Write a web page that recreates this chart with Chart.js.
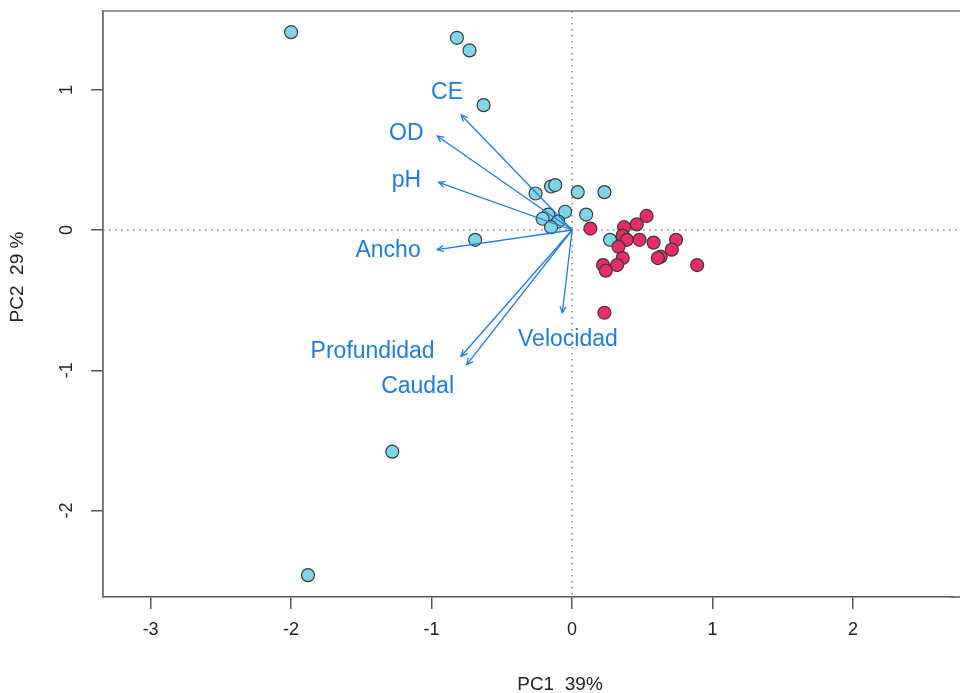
<!DOCTYPE html>
<html>
<head>
<meta charset="utf-8">
<script src="https://cdn.jsdelivr.net/npm/chart.js@4.4.0/dist/chart.umd.min.js"></script>
<style>
  html, body { margin: 0; padding: 0; background: #fff; overflow: hidden; }
  #wrap { width: 960px; height: 693px; position: relative; }
</style>
</head>
<body>
<div id="wrap"><canvas id="biplot" width="960" height="693"></canvas></div>
<script>
// scores (PC1, PC2) - grupo 1 (celeste)
const g1X = [-2.00, -0.82, -0.73, -0.63, -0.26, -0.15, -0.12, 0.04, 0.23, -0.05, -0.17, -0.21, -0.10, -0.15, 0.10, -0.69, 0.27, -1.28, -1.88];
const g1Y = [1.41, 1.37, 1.28, 0.89, 0.26, 0.31, 0.32, 0.27, 0.27, 0.13, 0.11, 0.08, 0.06, 0.02, 0.11, -0.07, -0.07, -1.58, -2.46];

// grupo 2 (rojo)
const g2X = [0.13, 0.46, 0.53, 0.37, 0.36, 0.39, 0.33, 0.36, 0.32, 0.22, 0.24, 0.48, 0.58, 0.74, 0.71, 0.63, 0.61, 0.89, 0.23];
const g2Y = [0.01, 0.04, 0.10, 0.02, -0.04, -0.07, -0.12, -0.20, -0.25, -0.25, -0.29, -0.07, -0.09, -0.07, -0.14, -0.19, -0.20, -0.25, -0.59];

// cargas (flechas)
const vars   = ["CE", "OD", "pH", "Ancho", "Velocidad", "Profundidad", "Caudal"];
const loadX  = [-0.79, -0.96, -0.95, -0.96, -0.07, -0.79, -0.75];
const loadY  = [0.82, 0.67, 0.34, -0.14, -0.59, -0.90, -0.96];
// posición de las etiquetas (en unidades de los ejes)
const labX   = [-0.89, -1.18, -1.18, -1.31, -0.03, -1.42, -1.10];
const labY   = [0.98, 0.69, 0.35, -0.15, -0.78, -0.87, -1.12];

const xTicks = [-3, -2, -1, 0, 1, 2];
const yTicks = [-2, -1, 0, 1];
const xTitle = "PC1  39%";
const yTitle = "PC2  29 %";

const BLUE = "#1e7be0";
const FONT = "'Liberation Sans', Arial, Helvetica, sans-serif";

const pts = (xs, ys) => xs.map((x, i) => ({ x, y: ys[i] }));

const arrowSets = vars.map((v, i) => ({
  type: "line",
  label: v,
  data: [{ x: 0, y: 0 }, { x: loadX[i], y: loadY[i] }],
  borderColor: BLUE,
  borderWidth: 1.3,
  pointRadius: 0,
  showLine: true,
  order: 0
}));

// ejes punteados, marco, puntas de flecha, etiquetas y títulos
const biplotExtras = {
  id: "biplotExtras",
  beforeDatasetsDraw(chart) {
    const { ctx, chartArea: a, scales: { x, y } } = chart;
    ctx.save();
    ctx.strokeStyle = "#8a8a8a";
    ctx.lineWidth = 1.6;
    ctx.setLineDash([1.6, 4.4]);
    const x0 = x.getPixelForValue(0), y0 = y.getPixelForValue(0);
    ctx.beginPath();
    ctx.moveTo(x0, a.top); ctx.lineTo(x0, a.bottom);
    ctx.moveTo(a.left, y0); ctx.lineTo(chart.width, y0);
    ctx.stroke();
    ctx.restore();
  },
  afterDatasetsDraw(chart) {
    const { ctx, chartArea: a, scales: { x, y } } = chart;
    ctx.save();
    // marco (el recuadro sigue más allá del borde derecho)
    ctx.strokeStyle = "#777";
    ctx.lineWidth = 1.5;
    ctx.beginPath();
    ctx.moveTo(a.left, a.bottom); ctx.lineTo(a.left, a.top); ctx.lineTo(chart.width, a.top);
    ctx.stroke();
    ctx.strokeStyle = "#555";
    ctx.beginPath();
    ctx.moveTo(a.right - 1, a.bottom); ctx.lineTo(chart.width, a.bottom);
    ctx.stroke();

    // puntas de flecha
    const x0 = x.getPixelForValue(0), y0 = y.getPixelForValue(0);
    ctx.strokeStyle = BLUE;
    ctx.lineWidth = 1.3;
    vars.forEach((v, i) => {
      const px = x.getPixelForValue(loadX[i]), py = y.getPixelForValue(loadY[i]);
      const ang = Math.atan2(py - y0, px - x0);
      const L = 7, sp = Math.PI / 7;
      ctx.beginPath();
      ctx.moveTo(px - L * Math.cos(ang - sp), py - L * Math.sin(ang - sp));
      ctx.lineTo(px, py);
      ctx.lineTo(px - L * Math.cos(ang + sp), py - L * Math.sin(ang + sp));
      ctx.stroke();
    });

    // etiquetas
    ctx.fillStyle = BLUE;
    ctx.font = `23px ${FONT}`;
    ctx.textAlign = "center";
    ctx.textBaseline = "middle";
    vars.forEach((v, i) => {
      ctx.fillText(v, x.getPixelForValue(labX[i]), y.getPixelForValue(labY[i]));
    });

    // títulos de ejes
    ctx.fillStyle = "#222";
    ctx.font = `19px ${FONT}`;
    ctx.fillText(xTitle, 560, 685);
    ctx.translate(18, 277);
    ctx.rotate(-Math.PI / 2);
    ctx.fillText(yTitle, 0, 0);
    ctx.restore();
  }
};

new Chart(document.getElementById("biplot"), {
  type: "scatter",
  data: {
    datasets: [
      ...arrowSets,
      {
        label: "grupo 2",
        data: pts(g2X, g2Y),
        backgroundColor: "#ea2d68",
        borderColor: "#3a3a3a",
        borderWidth: 1.2,
        pointRadius: 6.5,
        order: 1
      },
      {
        label: "grupo 1",
        data: pts(g1X, g1Y),
        backgroundColor: "#7fd6e8",
        borderColor: "#3a3a3a",
        borderWidth: 1.2,
        pointRadius: 6.5,
        order: 2
      }
    ]
  },
  options: {
    responsive: false,
    animation: false,
    layout: { padding: { top: 11, right: 0, left: 0, bottom: 0 } },
    plugins: { legend: { display: false }, tooltip: { enabled: false } },
    scales: {
      x: {
        type: "linear",
        min: -3.339, max: 2.706,
        afterFit: s => { s.height = 96; s.paddingLeft = 0; s.paddingRight = 0; },
        afterBuildTicks: s => { s.ticks = xTicks.map(v => ({ value: v })); },
        grid: { drawOnChartArea: false, tickLength: 12, color: "#555", lineWidth: 1.5 },
        border: { color: "#555", width: 1.5 },
        ticks: { color: "#222", font: { family: FONT, size: 18 }, padding: 10, maxRotation: 0 }
      },
      y: {
        type: "linear",
        min: -2.616, max: 1.561,
        afterFit: s => { s.width = 103; s.paddingTop = 0; s.paddingBottom = 0; },
        afterBuildTicks: s => { s.ticks = yTicks.map(v => ({ value: v })); },
        grid: { drawOnChartArea: false, tickLength: 12, color: "#555", lineWidth: 1.5 },
        border: { color: "#555", width: 1.5 },
        ticks: { color: "#222", font: { family: FONT, size: 18 }, padding: 16,
                 minRotation: 90, maxRotation: 90, crossAlign: "center" }
      }
    }
  },
  plugins: [biplotExtras]
});
</script>
</body>
</html>
